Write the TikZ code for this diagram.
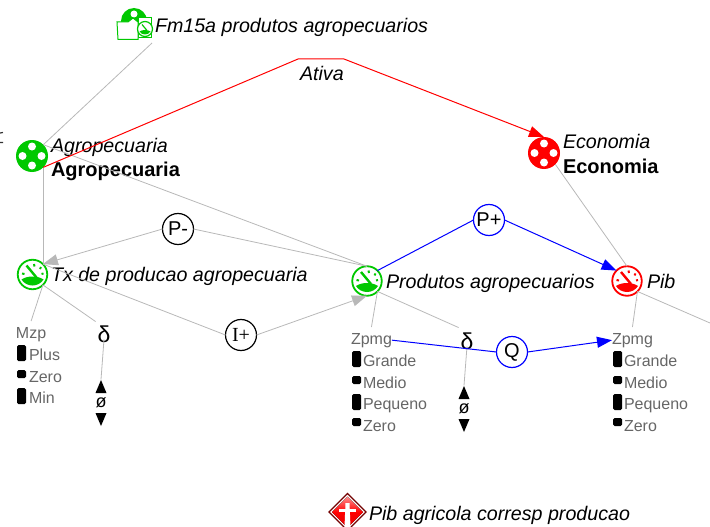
\documentclass[tikz,border=0pt]{standalone}
\usepackage{fontspec}
\setmainfont{Liberation Sans}
\newfontfamily\serifgl{Liberation Serif}
\usetikzlibrary{arrows.meta,shapes.geometric}
\definecolor{nodegreen}{HTML}{00C800}
\definecolor{nodered}{HTML}{FF0000}
\definecolor{linkgray}{HTML}{B8B8B8}
\definecolor{textgray}{HTML}{666666}
\definecolor{linkblue}{HTML}{0000FF}
\tikzset{
  x=1pt,y=-1pt,
  every node/.style={inner sep=0pt,outer sep=0pt},
  entity/.style={circle,minimum size=32pt,fill=#1},
  gaugebox/.style={circle,minimum size=29.5pt,draw=#1,line width=1.8pt,fill=white},
  process/.style={circle,minimum size=31pt,draw=#1,line width=1.2pt,fill=white,font=\fontsize{20}{20}\selectfont},
  namelab/.style={anchor=base west,font=\fontsize{19.65}{20}\selectfont\itshape,text=black},
  boldname/.style={anchor=base west,font=\fontsize{20}{20}\selectfont\bfseries,text=black},
  qty/.style={anchor=base west,font=\fontsize{16}{16}\selectfont,text=textgray},
  glyph/.style={font=\fontsize{23}{23}\selectfont},
  link/.style={draw=linkgray,line width=0.8pt},
  flow/.style={link,-{Triangle[length=15pt,width=11pt]}},
  bluelink/.style={draw=linkblue,line width=1pt},
  blueflow/.style={bluelink,-{Triangle[length=15pt,width=11pt]}},
  redlink/.style={draw=nodered,line width=1pt},
  redflow/.style={redlink,-{Triangle[length=15pt,width=11pt]}},
  levelmark/.style={fill=black,rounded corners=1.5pt},
}
\newcommand{\holes}[2]{%
  \begin{scope}[shift={(#1,#2)}]
    \foreach \a/\b in {0/-9.5,0/9.5,-9.5/0,9.5/0}{\fill[white] (\a,\b) circle (4);}
  \end{scope}}
\newcommand{\dial}[3]{%
  \begin{scope}[shift={(#1,#2)}]
    \fill[#3] (-11,5) .. controls (-5,1) and (5,1) .. (11,5) .. controls (6,13) and (-6,13) .. (-11,5) -- cycle;
    \draw[#3,line width=2.4pt] (4,3) -- (-6,-9);
    \draw[#3,line width=2pt] (1.5,-10.5) -- (2,-8) (8.5,-7.5) -- (7.5,-5.5) (-10.5,-1) -- (-8,-0.5) (11,-1) -- (9,-0.5);
  \end{scope}}
\newcommand{\updown}[4]{%
  \fill (#1-5.5,#2+6.5) -- (#1,#2-6.5) -- (#1+5.5,#2+6.5) -- cycle;
  \fill (#1-5.5,#4-6.5) -- (#1+5.5,#4-6.5) -- (#1,#4+6.5) -- cycle;
  \coordinate (#3tip) at (#1,#2-7);
  \node[font=\fontsize{18}{18}\selectfont] (#3) at (#1,{(#2+#4)/2}) {ø};}
\begin{document}
\begin{tikzpicture}
\useasboundingbox (0,0) rectangle (710,527);
% circles
\node[entity=nodegreen] (agro) at (32,156) {};
\node[entity=nodered] (econ) at (544,153) {};
\node[gaugebox=nodegreen] (tx) at (32.5,274.5) {};
\node[gaugebox=nodegreen] (prod) at (367,281) {};
\node[gaugebox=nodered] (pib) at (627,281) {};
\node[process=black] (pminus) at (178,229) {P-};
\node[process=black] (iplus) at (241,335) {\serifgl I+};
\node[process=linkblue] (pplus) at (489,220) {P+};
\node[process=linkblue] (qnode) at (512,352) {Q};
\node[glyph] (d1) at (104,334) {δ};
\node[glyph] (d2) at (467,341) {δ};
\coordinate (fm) at (152,43);
\coordinate (apexa) at (298,59);
\coordinate (apexb) at (344,59);
\coordinate (offright) at (710,323);
% labels
\node[namelab] (fmlab) at (155,33) {Fm15a produtos agropecuarios};
\node[namelab] (ativa) at (300,81) {Ativa};
\node[namelab] (agrolab) at (51,152) {Agropecuaria};
\node[boldname] (agrob) at (51,176) {Agropecuaria};
\node[namelab] (econlab) at (563,148) {Economia};
\node[boldname] (econb) at (563,173) {Economia};
\node[namelab] (txlab) at (51,281) {Tx de producao agropecuaria};
\node[namelab] (prodlab) at (386,288) {Produtos agropecuarios};
\node[namelab] (piblab) at (647,288) {Pib};
\node[namelab] (diaglab) at (369,520) {Pib agricola corresp producao};
\node[qty] (mzp) at (16,338) {Mzp};
\node[qty] (q1) at (29,360) {Plus};
\node[qty] (q2) at (29,382) {Zero};
\node[qty] (q3) at (29,403) {Min};
\node[qty] (z1) at (351,344) {Zpmg};
\node[qty] (z1a) at (363,366) {Grande};
\node[qty] (z1b) at (363,388) {Medio};
\node[qty] (z1c) at (363,409) {Pequeno};
\node[qty] (z1d) at (363,431) {Zero};
\node[qty] (z2) at (612,344) {Zpmg};
\node[qty] (z2a) at (624,366) {Grande};
\node[qty] (z2b) at (624,388) {Medio};
\node[qty] (z2c) at (624,409) {Pequeno};
\node[qty] (z2d) at (624,431) {Zero};
\updown{101}{386.5}{oa}{419.5}
\updown{464}{392.5}{ob}{425.5}
% connectors
\draw[link] (fm) -- (agro.45);
\draw[link] (agro.-45) -- (agro.-45 |- tx.45);
\draw[link] (agro.45) -- (prod.north);
\draw[link] (prod.north) -- (pminus.east);
\draw[flow] (pminus.west) -- (tx.45);
\draw[link] (tx.45) -- (iplus.west);
\draw[flow] (iplus.east) -- (prod.south);
\draw[link] (econ.-45) -- (pib.north);
\draw[link] (pib.-45) -- (offright);
\draw[link] (tx.-45) -- ([yshift=6pt]mzp.north);
\draw[link] (tx.-45) -- ([shift={(-2pt,4pt)}]d1.north west);
\draw[link] ([yshift=3pt]d1.south) -- (oatip);
\draw[link] (prod.-45) -- ([yshift=6pt]z1.north);
\draw[link] (prod.-45) -- ([shift={(-2pt,5pt)}]d2.north west);
\draw[link] ([yshift=3pt]d2.south) -- (obtip);
\draw[link] (pib.-45) -- ([yshift=6pt]z2.north);
\draw[redflow] (agro.-45) -- (apexa) -- (apexb) -- (econ.north);
\draw[bluelink] (prod.45) -- (pplus.west);
\draw[blueflow] (pplus.east) -- (pib.135);
\draw[bluelink] (z1.east) -- (qnode.west);
\draw[blueflow] (qnode.east) -- (z2.west);
% icon details
\holes{32}{156}
\holes{544}{153}
\dial{32.5}{274.5}{nodegreen}
\dial{367}{281}{nodegreen}
\dial{627}{281}{nodered}
% level marks
\foreach \a/\b in {17/345,17/388,352/351,352/394,613/351,613/394}{\fill[levelmark] (\a,\b) rectangle ++(9,16);}
\foreach \a/\b in {17/370,352/376,352/418,613/376,613/418}{\fill[levelmark] (\a,\b) rectangle ++(9,8);}
% Fm15a icon
\fill[nodegreen] (134,21) circle (13);
\fill[white] (134,14) circle (3.5);
\draw[nodegreen,line width=1pt,fill=white] (138,18) rectangle (151,38);
\draw[nodegreen,line width=1pt,fill=white] (117,22) -- (128,22) -- (133,18) -- (138,22) -- (138,39.5) -- (118,39.5) -- cycle;
\draw[nodegreen,line width=1.2pt,fill=white] (145,29) circle (7.5);
\begin{scope}[shift={(145,29)},scale=0.5]
\fill[nodegreen] (-11,5) .. controls (-5,1) and (5,1) .. (11,5) .. controls (6,13) and (-6,13) .. (-11,5) -- cycle;
\draw[nodegreen,line width=1.2pt] (4,3) -- (-6,-9);
\end{scope}
% diamond
\node[diamond,minimum size=37pt,fill=white,draw=red!45!black,line width=1.2pt] (warn) at (347.5,512) {};
\fill[top color=red!45!white,bottom color=red!90!black,middle color=nodered] (347.5,496.5) -- (363,512) -- (347.5,527.5) -- (332,512) -- cycle;
\fill[white] (345.5,503) -- (349.5,503) -- (350.5,527) -- (344.5,527) -- cycle;
\fill[white] (339,508.5) rectangle (356,511.5);
% clipped marks at left edge
\draw[black!80,line width=1.2pt] (0,133) -- (3,132.5) (0,142.5) -- (3,142.5);
\end{tikzpicture}
\end{document}
